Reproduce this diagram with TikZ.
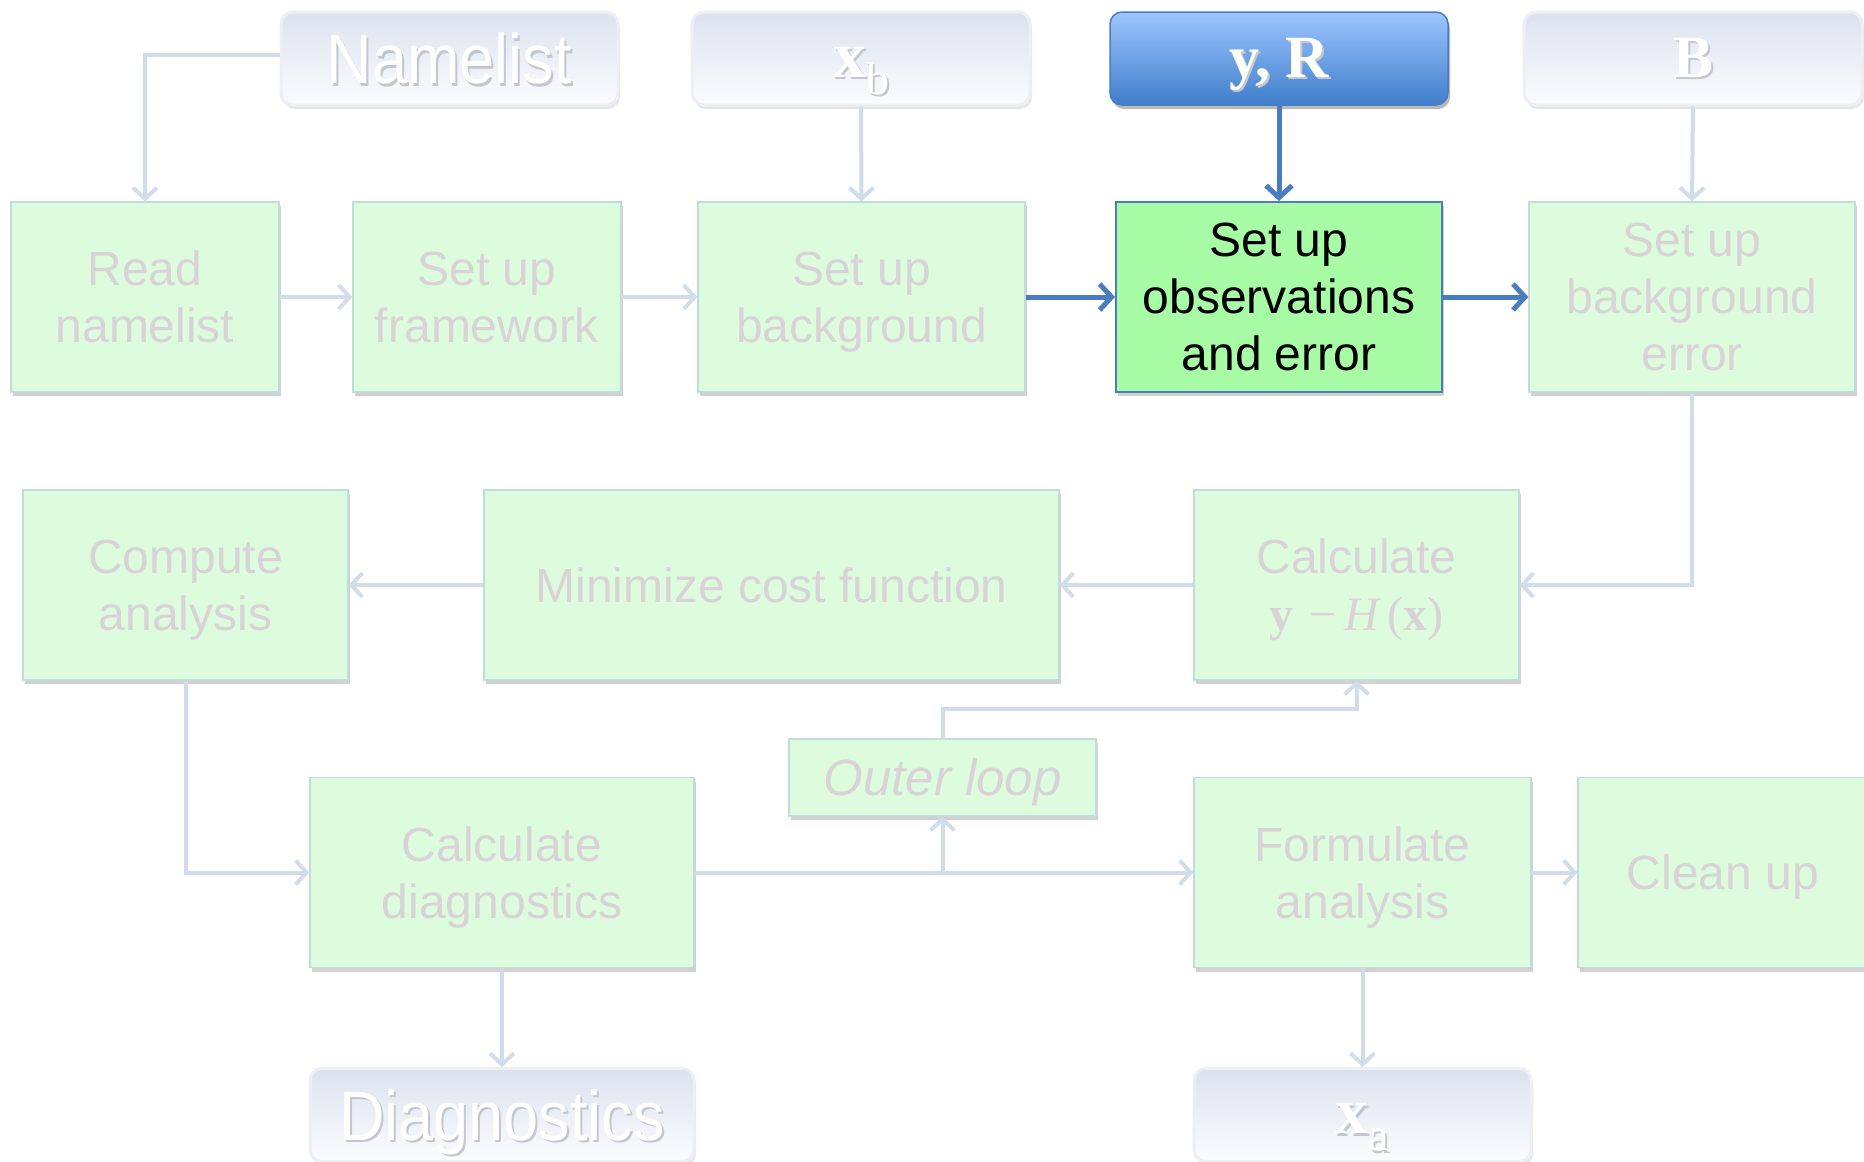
\documentclass[tikz,border=0pt]{standalone}
\usepackage{fontspec}
\setmainfont{Liberation Sans}
\newfontfamily\serifface{Liberation Serif}
\newfontfamily\narrowsans[FakeStretch=0.9]{Liberation Sans}
\usetikzlibrary{arrows.meta,shadows}

\definecolor{paleFill}{HTML}{DDFCDD}
\definecolor{paleEdge}{HTML}{BFDCDF}
\definecolor{paleText}{HTML}{D9D3D7}
\definecolor{paleLine}{HTML}{D3DDEA}
\definecolor{activeFill}{HTML}{A9FCA6}
\definecolor{activeBlue}{HTML}{4A7DC0}
\definecolor{dataTop}{HTML}{DCE2EE}
\definecolor{dataBottom}{HTML}{FBFCFE}
\definecolor{dataEdge}{HTML}{EDEFF4}
\definecolor{inTop}{HTML}{9EC5FF}
\definecolor{inBottom}{HTML}{3F7ECB}
\definecolor{glyphShadow}{HTML}{C3C8D0}

% white lettering with a soft offset shadow
\newcommand\raisedword[1]{\leavevmode\rlap{\kern2pt\raisebox{-2.5pt}{\textcolor{glyphShadow}{#1}}}#1}

\tikzset{
  stepbox/.style={draw=paleEdge, line width=1.2pt, fill=paleFill, text=paleText,
    align=center, inner sep=0pt, minimum height=190, text depth=0pt,
    font=\fontsize{48}{57}\selectfont,
    drop shadow={shadow xshift=2pt, shadow yshift=-4pt, opacity=0.3, fill=black!60}},
  activebox/.style={stepbox, fill=activeFill, draw=activeBlue, line width=2pt, text=black},
  databox/.style={rounded corners=12, draw=dataEdge, line width=3pt,
    top color=dataTop, bottom color=dataBottom, text=white, inner sep=0pt,
    minimum height=93, text depth=0pt, font=\narrowsans\fontsize{70}{80}\selectfont,
    drop shadow={shadow xshift=2pt, shadow yshift=-4pt, opacity=0.16, fill=black!60}},
  inputbox/.style={databox, draw=activeBlue, line width=1.5pt,
    top color=inTop, bottom color=inBottom,
    drop shadow={shadow xshift=2pt, shadow yshift=-4pt, opacity=0.35, fill=black!60}},
  flow/.style={draw=paleLine, line width=4pt, -{Straight Barb[length=11pt,width=24pt]}},
  hotflow/.style={draw=activeBlue, line width=5pt, -{Straight Barb[length=12pt,width=26pt]}},
  mathlabel/.style={font=\serifface\bfseries\fontsize{60}{70}\selectfont,
    text height=37pt, text depth=0pt}
}

\begin{document}
\begin{tikzpicture}[x=1pt,y=-1pt]
\useasboundingbox (0,0) rectangle (1864,1162);

% data sources and products
\node[databox, minimum width=337] (nl) at (449.5,58.5) {\raisedword{Namelist}};
\node[databox, minimum width=338, mathlabel] (xb) at (861,58.5)
  {\raisedword{\fontsize{66}{70}\selectfont x\raisebox{-17pt}{\mdseries\fontsize{46}{46}\selectfont b}}};
\node[inputbox, minimum width=338, mathlabel] (yr) at (1279,58.5) {\raisedword{y, R}};
\node[databox, minimum width=338, mathlabel] (bmat) at (1693,58.5) {\raisedword{B}};

% first row of steps
\node[stepbox, minimum width=268] (read) at (145,297) {Read\\namelist};
\node[stepbox, minimum width=268] (frame) at (487,297) {Set up\\framework};
\node[stepbox, minimum width=327] (bkg) at (861.5,297) {Set up\\background};
\node[activebox, minimum width=326] (obs) at (1279,297) {Set up\\observations\\and error};
\node[stepbox, minimum width=326] (berr) at (1692,297) {Set up\\background\\error};

% second row
\node[stepbox, minimum width=325] (comp) at (185.5,585) {Compute\\analysis};
\node[stepbox, minimum width=575] (mini) at (771.5,585) {Minimize cost function};
\node[stepbox, minimum width=325] (calc) at (1356.5,585)
  {Calculate\\{\serifface\bfseries y\,\mdseries\,−\,\itshape H\upshape\,(\bfseries x\mdseries)}};

% outer loop marker
\node[stepbox, minimum width=307, minimum height=77, font=\itshape\fontsize{51}{57}\selectfont]
  (outer) at (942.5,777.5) {Outer loop};

% third row
\node[stepbox, minimum width=384] (diag) at (502,872.5) {Calculate\\diagnostics};
\node[stepbox, minimum width=337] (form) at (1362.5,872.5) {Formulate\\analysis};
\node[stepbox, minimum width=290] (clean) at (1723,872.5) {Clean up};

% outputs
\node[databox, minimum width=384] (diagout) at (502,1115) {\raisedword{Diagnostics}};
\node[databox, minimum width=337, mathlabel] (xa) at (1362.5,1115)
  {\raisedword{\fontsize{66}{70}\selectfont x\raisebox{-17pt}{\mdseries\fontsize{46}{46}\selectfont a}}};

% connectors
\draw[flow] ([yshift=4pt]nl.west) -| (read.north);
\draw[flow] (xb.south) -- (bkg.north);
\draw[hotflow] (yr.south) -- (obs.north);
\draw[flow] (bmat.south) -- (berr.north);

\draw[flow] (read.east) -- (frame.west);
\draw[flow] (frame.east) -- (bkg.west);
\draw[hotflow] (bkg.east) -- (obs.west);
\draw[hotflow] (obs.east) -- (berr.west);

\draw[flow] (berr.south) |- (calc.east);
\draw[flow] (calc.west) -- (mini.east);
\draw[flow] (mini.west) -- (comp.east);
\draw[flow] (comp.south) |- (diag.west);

\draw[flow] (diag.east) -- (form.west);
\coordinate (split) at (outer.south |- diag.east);
\draw[flow] (split) -- (outer.south);
\draw[flow] (outer.north) -- ++(0,-29) -| (calc.south);
\draw[flow] (form.east) -- (clean.west);

\draw[flow] (diag.south) -- (diagout.north);
\draw[flow] (form.south) -- (xa.north);
\end{tikzpicture}
\end{document}
